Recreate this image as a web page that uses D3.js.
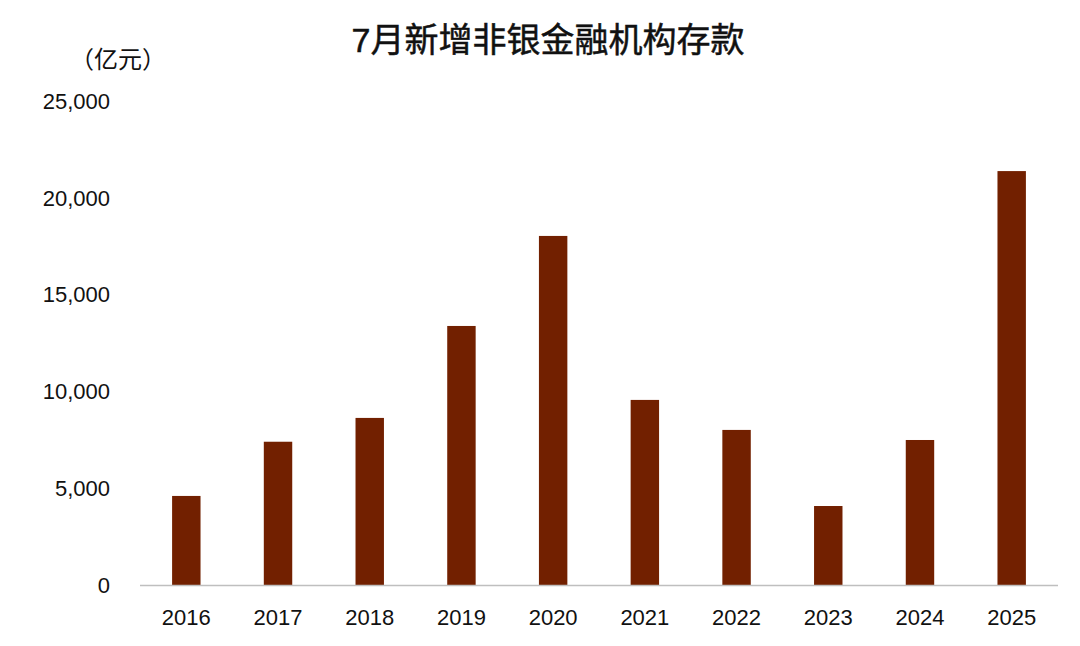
<!DOCTYPE html>
<html><head><meta charset="utf-8">
<script src="https://cdn.jsdelivr.net/npm/d3@7"></script>
<style>
body{margin:0;background:#fff;}
text{font-family:"Liberation Sans","Noto Sans CJK SC",sans-serif;}
</style></head>
<body><svg id="chart" width="1080" height="646"></svg>
<script>
var years = ["2016","2017","2018","2019","2020","2021","2022","2023","2024","2025"];
var deposits = [4600, 7400, 8630, 13380, 18030, 9560, 8010, 4080, 7490, 21380];
var yTicks = [0, 5000, 10000, 15000, 20000, 25000];

var svg = d3.select("#chart");
var plotLeft = 140, plotRight = 1058, plotTop = 101, plotBottom = 585;

var x = d3.scaleBand().domain(years).range([plotLeft, plotRight]).paddingInner(0.69).paddingOuter(0.35);
var y = d3.scaleLinear().domain([0, 25000]).range([plotBottom, plotTop]);

svg.append("text").attr("x", 548).attr("y", 52).attr("text-anchor", "middle")
    .attr("font-size", 34).attr("fill", "#111").attr("stroke", "#111").attr("stroke-width", 0.5)
    .text("7月新增非银金融机构存款");
svg.append("text").attr("x", 118).attr("y", 68).attr("text-anchor", "middle")
    .attr("font-size", 24).attr("fill", "#111").text("（亿元）");

svg.selectAll(".ytick").data(yTicks).enter().append("text")
    .attr("x", 110).attr("y", function (d) { return y(d); })
    .attr("dy", "0.35em").attr("text-anchor", "end")
    .attr("font-size", 22).attr("fill", "#111")
    .text(function (d) { return d3.format(",")(d); });

svg.selectAll(".bar").data(years).enter().append("rect")
    .attr("x", function (d) { return x(d); })
    .attr("width", x.bandwidth())
    .attr("y", function (d, i) { return y(deposits[i]); })
    .attr("height", function (d, i) { return plotBottom - y(deposits[i]); })
    .attr("fill", "#722000");

svg.append("line").attr("x1", plotLeft).attr("x2", plotRight).attr("y1", plotBottom + 0.5).attr("y2", plotBottom + 0.5)
    .attr("stroke", "#bfbfbf").attr("stroke-width", 1.5);

svg.selectAll(".xtick").data(years).enter().append("text")
    .attr("x", function (d) { return x(d) + x.bandwidth() / 2; })
    .attr("y", 625).attr("text-anchor", "middle")
    .attr("font-size", 22).attr("fill", "#111")
    .text(function (d) { return d; });
</script></body></html>
